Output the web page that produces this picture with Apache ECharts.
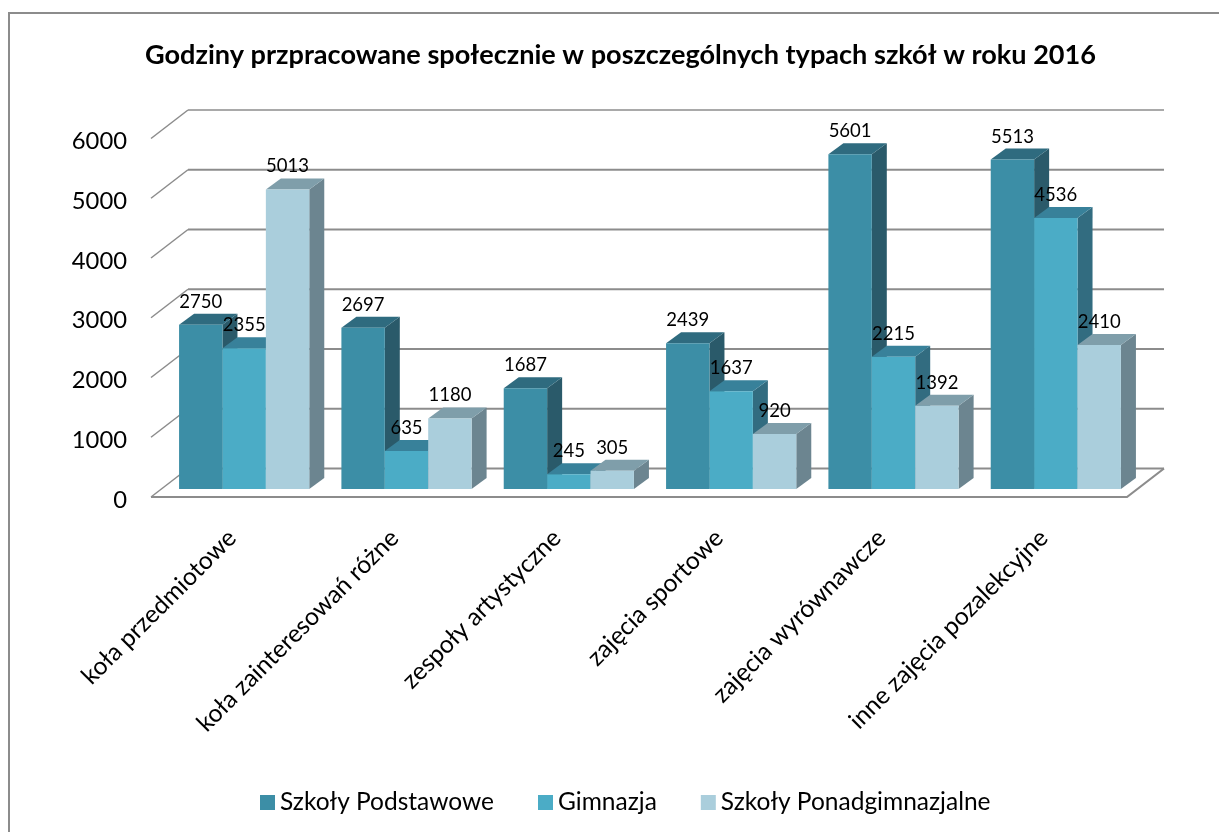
<!DOCTYPE html>
<html><head><meta charset="utf-8">
<style>html,body{margin:0;padding:0;background:#fff}#c{width:1219px;height:832px}</style>
<script src="https://cdn.jsdelivr.net/npm/echarts@6/dist/echarts.min.js"></script>
</head><body><div id="c"></div>
<script>
const categories = ['koła przedmiotowe','koła zainteresowań różne','zespoły artystyczne','zajęcia sportowe','zajęcia wyrównawcze','inne zajęcia pozalekcyjne'];
const podstawowe = [2750,2697,1687,2439,5601,5513];
const gimnazja = [2355,635,245,1637,2215,4536];
const ponadgimnazjalne = [5013,1180,305,920,1392,2410];
const yTicks = [0,1000,2000,3000,4000,5000,6000];
const seriesNames = ['Szkoły Podstawowe','Gimnazja','Szkoły Ponadgimnazjalne'];
const FONT = 'Lato';
const styles = [
 {front:'#3c8ea6',top:'#2f6b7f',side:'#2a5a6a'},
 {front:'#4bacc6',top:'#38819a',side:'#326c80'},
 {front:'#aacedc',top:'#7f9eaa',side:'#6c8590'}
];
const grid3d = {dx:37,dy:-28.5};
const barShift = {dx:12,dy:-8};
const depth = {dx:15,dy:-11};
const barW = 43.4;
const wallExtra = 2;
function wallItem(params, api){
  const cs = params.coordSys;
  const v = api.value(1);
  const y = api.coord([0,v])[1];
  const L = cs.x, R = cs.x+cs.width+wallExtra;
  const d = grid3d;
  const thin = {stroke:'#8c8c8c',lineWidth:1.5,fill:null};
  const thick = {stroke:'#8c8c8c',lineWidth:v===6000?1.6:2.1,fill:null};
  const kids = [
    {type:'polyline',shape:{points:[[L,y],[L+d.dx,y+d.dy]]},style:thin},
    {type:'polyline',shape:{points:[[L+d.dx,y+d.dy],[R+d.dx,y+d.dy]]},style:thick}
  ];
  if(v===0){
    kids.push({type:'polyline',shape:{points:[[L,y],[R,y],[R+d.dx,y+d.dy]]},style:{stroke:'#8c8c8c',lineWidth:2.2,fill:null}});
  }
  return {type:'group',children:kids};
}
function barItem(i){
  const st = styles[i];
  return function(params, api){
    const cat = api.value(0), v = api.value(1);
    const c = api.coord([cat,v]), b = api.coord([cat,0]);
    const x0 = c[0]+barShift.dx+(i-1.5)*barW;
    const x1 = x0+barW;
    const yT = c[1]+barShift.dy, yB = b[1]+barShift.dy;
    const d = depth;
    return {type:'group',children:[
      {type:'polygon',shape:{points:[[x1,yT],[x1+d.dx,yT+d.dy],[x1+d.dx,yB+d.dy],[x1,yB]]},style:{fill:st.side}},
      {type:'polygon',shape:{points:[[x0,yT],[x0+d.dx,yT+d.dy],[x1+d.dx,yT+d.dy],[x1,yT]]},style:{fill:st.top}},
      {type:'rect',shape:{x:x0,y:yT,width:barW,height:yB-yT},style:{fill:st.front}},
      {type:'text',z2:50,style:{text:String(v),x:(x0+x1)/2,y:yT-23,align:'center',verticalAlign:'middle',fill:'#000',font:'18.5px '+FONT}}
    ]};
  };
}
const pairs = a => a.map((v,k)=>[k,v]);
const chart = echarts.init(document.getElementById('c'),null,{renderer:'canvas'});
chart.setOption({
  animation:false,
  backgroundColor:'#fff',
  title:{text:'Godziny przpracowane społecznie w poszczególnych typach szkół w roku 2016',left:615.5,top:37,textAlign:'center',
    textStyle:{fontFamily:FONT,fontWeight:'bold',fontSize:27.1,color:'#000'}},
  legend:{left:255,top:785,itemWidth:15,itemHeight:15,itemGap:44,icon:'rect',data:seriesNames,
    textStyle:{fontFamily:FONT,fontSize:24.5,color:'#000'}},
  grid:{left:151,top:138.5,width:974,height:358.5},
  xAxis:{type:'category',data:categories,axisLine:{show:false},axisTick:{show:false},splitLine:{show:false},
    axisLabel:{rotate:45,interval:0,margin:37,fontFamily:FONT,fontSize:24.6,color:'#000'}},
  yAxis:{type:'value',min:0,max:6000,interval:1000,axisLine:{show:false},axisTick:{show:false},splitLine:{show:false},
    axisLabel:{margin:24,fontFamily:FONT,fontSize:23.8,color:'#000',verticalAlign:'top',lineHeight:6,formatter:v=>String(v)}},
  graphic:[{type:'polyline',shape:{points:[[9,832],[9,13],[1219,13]]},style:{fill:null,stroke:'#8c8c8c',lineWidth:2},silent:true,z:-1}],
  series:[
    {type:'custom',name:'grid',data:yTicks.map(v=>[0,v]),encode:{x:0,y:1},renderItem:wallItem,silent:true,clip:false,z:1},
    ...[podstawowe,gimnazja,ponadgimnazjalne].map((arr,i)=>({
      type:'custom',name:seriesNames[i],data:pairs(arr),encode:{x:0,y:1},renderItem:barItem(i),
      itemStyle:{color:styles[i].front},silent:true,clip:false,z:2+i}))
  ]
});
</script></body></html>
